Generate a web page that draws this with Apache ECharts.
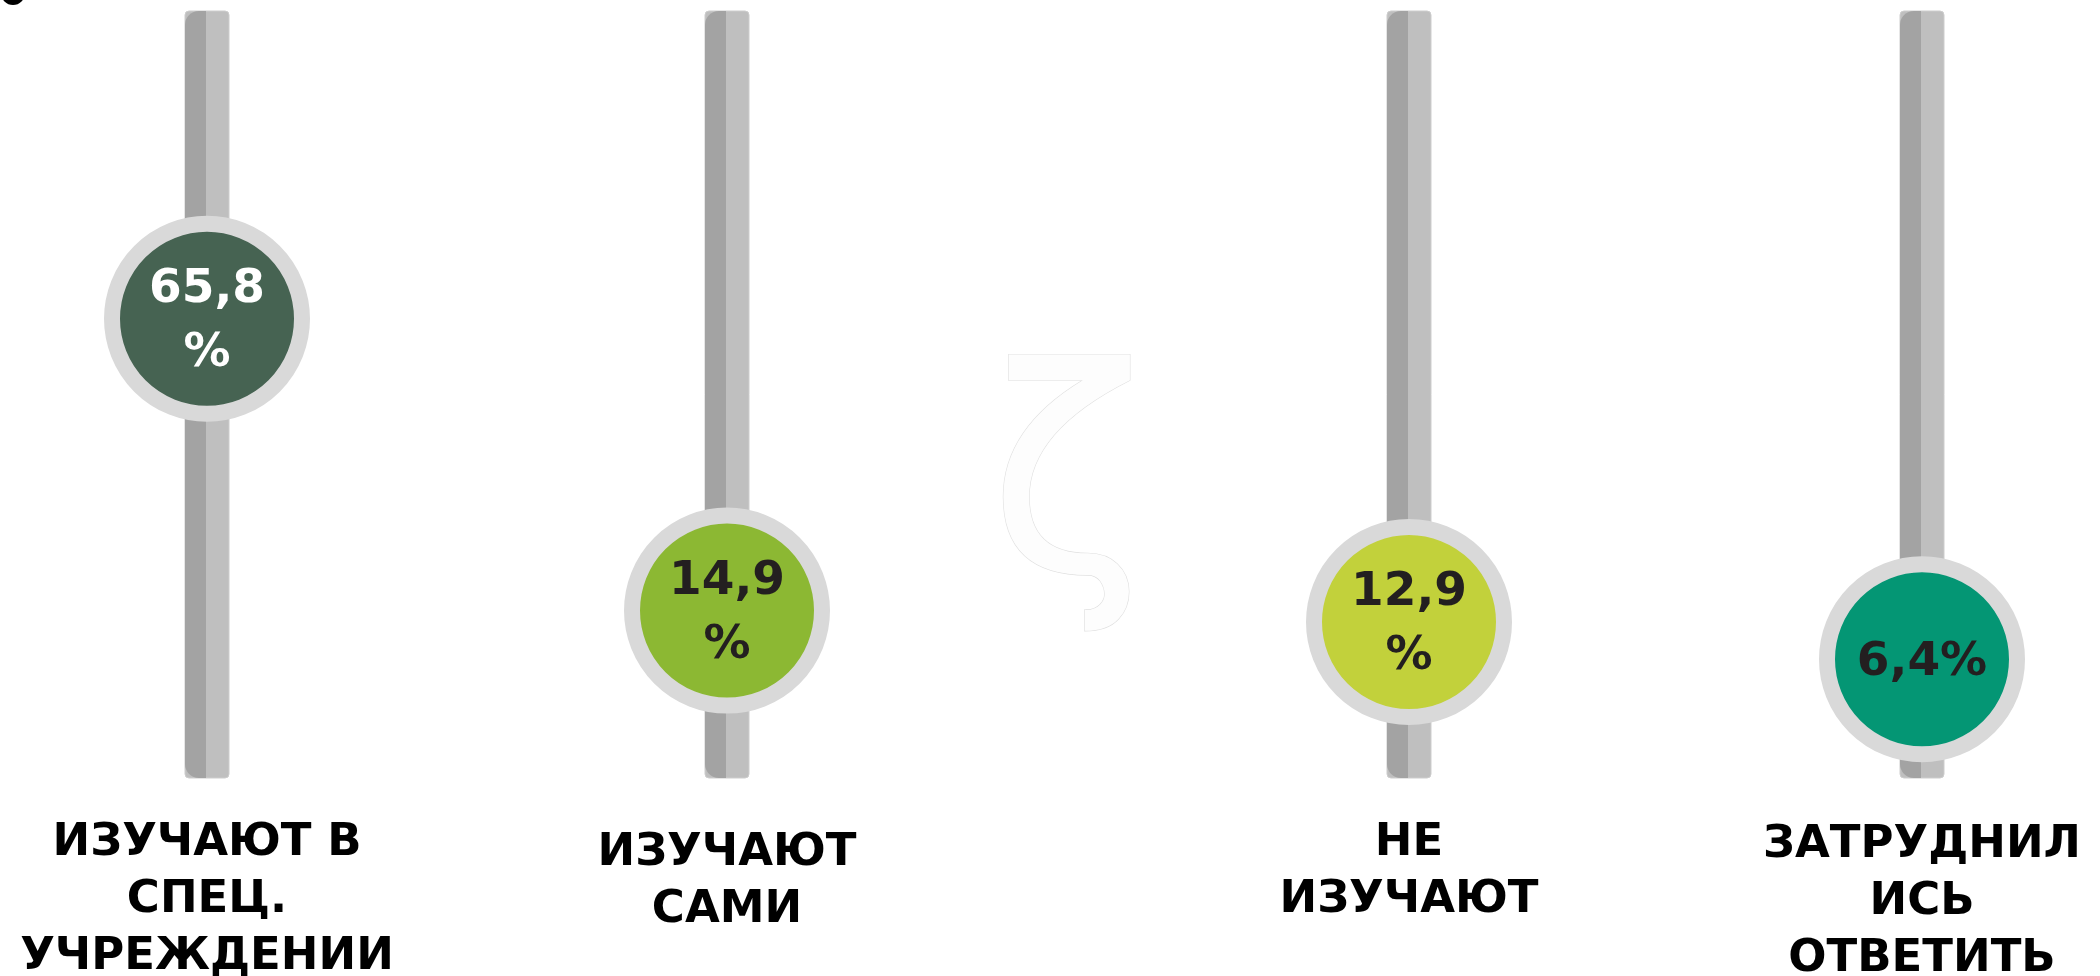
<!DOCTYPE html>
<html><head><meta charset="utf-8">
<script src="https://cdn.jsdelivr.net/npm/echarts@6/dist/echarts.min.js"></script>
<style>html,body{margin:0;padding:0;background:#fff}#c{width:2100px;height:976px}</style>
</head><body><div id="c"></div>
<script>
// ---- data ----
const categories = ['ИЗУЧАЮТ В\nСПЕЦ.\nУЧРЕЖДЕНИИ', 'ИЗУЧАЮТ\nСАМИ', 'НЕ\nИЗУЧАЮТ', 'ЗАТРУДНИЛ\nИСЬ\nОТВЕТИТЬ'];
const values = [65.8, 14.9, 12.9, 6.4];
const valueLabels = ['65,8\n%', '14,9\n%', '12,9\n%', '6,4%'];

// ---- styles / layout ----
const circleColors = ['#466352', '#8cb833', '#c2d13b', '#049674'];
const valueLabelColors = ['#ffffff', '#231f20', '#231f20', '#231f20'];
const panelCenters = [207, 727, 1409, 1922];
const labelMargins = [37, 47, 37, 39];
const PANEL_W = 240, TRACK_TOP = 11, TRACK_BOTTOM = 778;

const chart = echarts.init(document.getElementById('c'));
const grids = [], xAxes = [], yAxes = [], series = [];
categories.forEach((cat, i) => {
  grids.push({ left: panelCenters[i] - PANEL_W / 2, width: PANEL_W, top: TRACK_TOP, height: TRACK_BOTTOM - TRACK_TOP, containLabel: false, outerBoundsMode: 'none' });
  xAxes.push({
    type: 'category', gridIndex: i, data: [cat],
    axisLine: { show: false }, axisTick: { show: false }, splitLine: { show: false },
    axisLabel: { interval: 0, margin: labelMargins[i], fontFamily: 'DejaVu Sans', fontWeight: 'bold', fontSize: 45, lineHeight: 57, color: '#000' }
  });
  yAxes.push({ type: 'value', gridIndex: i, min: -14.3, max: 119.5, show: false });
  series.push({
    type: 'custom', xAxisIndex: i, yAxisIndex: i, silent: true, z: 1,
    data: [[0, values[i]]],
    renderItem: (params, api) => {
      const cx = api.coord([api.value(0), 0])[0];
      const cs = params.coordSys;
      const x0 = cx - 22;
      return {
        type: 'group', children: [
          { type: 'rect', shape: { x: x0, y: cs.y, width: 44, height: cs.height, r: 4 }, style: { fill: '#bfbfbf', stroke: '#cdcdcd', lineWidth: 1 } },
          { type: 'rect', shape: { x: x0, y: cs.y, width: 21, height: cs.height, r: [14, 0, 0, 14] }, style: { fill: '#a3a3a3' } }
        ]
      };
    }
  });
  series.push({
    type: 'scatter', xAxisIndex: i, yAxisIndex: i, z: 3, silent: true,
    data: [[0, values[i]]], symbol: 'circle', symbolSize: 190,
    itemStyle: { color: circleColors[i], borderColor: '#d9d9d9', borderWidth: 16, opacity: 1 },
    emphasis: { disabled: true },
    label: { show: true, position: 'inside', offset: [0, 3], formatter: valueLabels[i], fontFamily: 'DejaVu Sans', fontWeight: 'bold', fontSize: 47, lineHeight: 64, color: valueLabelColors[i] }
  });
});

chart.setOption({
  animation: false,
  backgroundColor: '#ffffff',
  grid: grids, xAxis: xAxes, yAxis: yAxes, series: series,
  graphic: [
    { type: 'circle', shape: { cx: 13, cy: -7, r: 12 }, style: { fill: '#000' } },
    { type: 'text', x: 1066, y: 497, z: 0, style: { text: 'ζ', font: '285px "DejaVu Sans"', fill: '#fdfdfd', stroke: '#e0e0e0', lineWidth: 1.2, align: 'center', verticalAlign: 'middle' } }
  ]
});
</script>
</body></html>
